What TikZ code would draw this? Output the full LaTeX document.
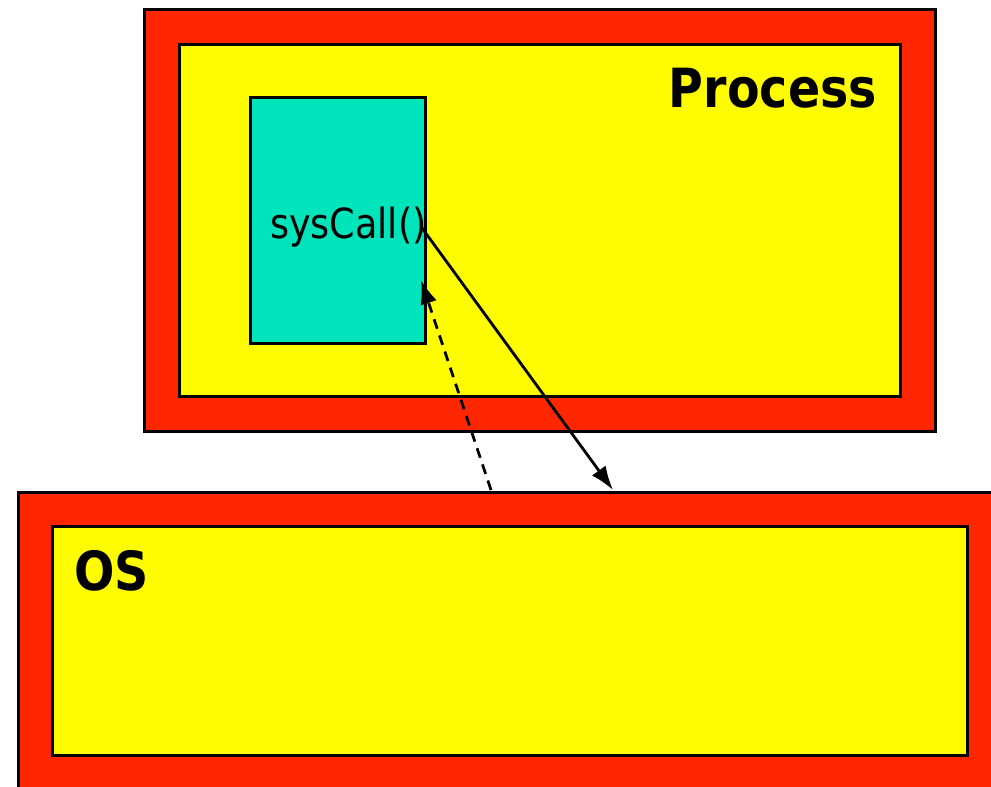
\documentclass[tikz,border=0pt]{standalone}
\usepackage{fontspec}
\newfontfamily\tah[FakeStretch=0.88]{DejaVu Sans}
\usetikzlibrary{arrows.meta}
\definecolor{boxred}{RGB}{255,38,0}
\definecolor{boxyellow}{RGB}{255,251,0}
\definecolor{boxteal}{RGB}{0,228,188}
\begin{document}
\begin{tikzpicture}[x=1pt,y=-1pt,
  frame/.style={draw=black,line width=3pt,inner sep=0pt,anchor=north west},
  biglabel/.style={font=\tah\bfseries\fontsize{54}{60}\selectfont,inner sep=0pt},
  smalllabel/.style={font=\tah\fontsize{41.5}{46}\selectfont,inner sep=0pt},
  conn/.style={line width=2.8pt,-{Latex[length=24pt,width=17pt]}}]
\useasboundingbox (0,0) rectangle (991,787);
\clip (0,0) rectangle (991,787);
% Process
\node[frame,fill=boxred,minimum width=791pt,minimum height=422pt] (procout) at (143,8) {};
\node[frame,fill=boxyellow,minimum width=721pt,minimum height=352pt] (procin) at (178,43) {};
\node[frame,fill=boxteal,minimum width=175pt,minimum height=246pt] (call) at (249,96) {};
\node[biglabel,anchor=base east] (plabel) at (877,107) {Process};
\node[smalllabel,anchor=base west] (sys) at (270,238) {sysCall()};
% OS
\node[frame,fill=boxred,minimum width=1000pt,minimum height=320pt] (osout) at (17,491) {};
\node[frame,fill=boxyellow,minimum width=915pt,minimum height=229pt] (osin) at (51,525) {};
\node[biglabel,anchor=base west] (oslabel) at (74,590) {OS};
% connectors
\coordinate (callout) at (422,228);
\coordinate (retin) at (421,280);
\coordinate (osa) at (613,490);
\coordinate (osb) at (491,490);
\draw[conn] (callout) -- (osa);
\draw[conn,dash pattern=on 10pt off 7pt] (osb) -- (retin);
\end{tikzpicture}
\end{document}
